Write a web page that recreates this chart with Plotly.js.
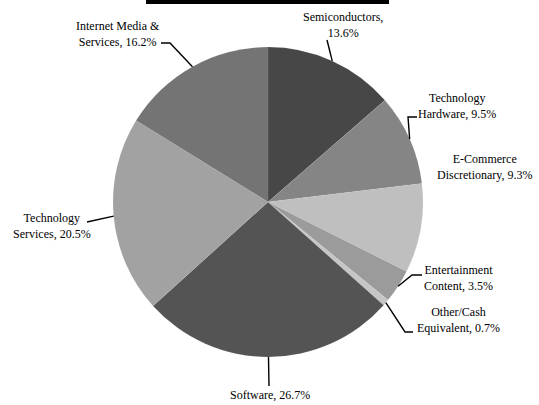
<!DOCTYPE html>
<html>
<head>
<meta charset="utf-8">
<script src="https://cdn.plot.ly/plotly-3.0.1.min.js"></script>
<style>html,body{margin:0;padding:0;background:#fff}#chart{width:539px;height:405px}</style>
</head>
<body>
<div id="chart"></div>
<script>
// ---- data ----
const categories = ["Semiconductors", "Technology Hardware", "E-Commerce Discretionary", "Entertainment Content", "Other/Cash Equivalent", "Software", "Technology Services", "Internet Media & Services"];
const labelLines = [["Semiconductors,", "13.6%"], ["Technology", "Hardware, 9.5%"], ["E-Commerce", "Discretionary, 9.3%"], ["Entertainment", "Content, 3.5%"], ["Other/Cash", "Equivalent, 0.7%"], ["Software, 26.7%"], ["Technology", "Services, 20.5%"], ["Internet Media &amp;", "Services, 16.2%"]];
const values = [13.6, 9.5, 9.3, 3.5, 0.7, 26.7, 20.5, 16.2];

// ---- styles / layout positions (pixels) ----
const colors = ["#474747", "#858585", "#bfbfbf", "#9b9b9b", "#c6c6c6", "#545454", "#a2a2a2", "#747474"];
const W = 539, H = 405;
const CX = 268, CY = 202, R = 155;
const textPos = [[343, 25], [457, 106], [485, 167], [458, 278], [458, 320], [270, 395], [52, 226], [118, 34]];
const leaderStart = [[[327, 40]], [[417, 117], [408, 117]], null, [[422, 275], [412, 275]], [[413, 332], [405, 332]], [[269, 386]], [[87, 222]], [[161, 43], [170, 43]]];
const FONT = "Liberation Serif";

const px = x => x / W;
const py = y => 1 - y / H;

const total = values.reduce((a, b) => a + b, 0);
let cum = 0;
const shapes = [];
const annotations = [];
values.forEach((v, i) => {
  const mid = (cum + v / 2) / total * 2 * Math.PI;
  cum += v;
  const ex = CX + R * Math.sin(mid), ey = CY - R * Math.cos(mid);
  annotations.push({
    xref: 'paper', yref: 'paper', x: px(textPos[i][0]), y: py(textPos[i][1]),
    xanchor: 'center', yanchor: 'middle', showarrow: false, align: 'center',
    text: labelLines[i].join('<br>'),
    font: {family: FONT, size: 12, color: '#000'}
  });
  if (leaderStart[i]) {
    const pts = leaderStart[i].concat([[ex, ey]]);
    let d = 'M ' + px(pts[0][0]) + ',' + py(pts[0][1]);
    for (let k = 1; k < pts.length; k++) d += ' L ' + px(pts[k][0]) + ',' + py(pts[k][1]);
    shapes.push({type: 'path', xref: 'paper', yref: 'paper', path: d, line: {color: '#000', width: 1.4}});
  }
});
shapes.push({type: 'rect', xref: 'paper', yref: 'paper', x0: px(146), x1: px(389), y0: py(0), y1: py(4), fillcolor: '#000', line: {width: 0}});

const trace = {
  type: 'pie', labels: categories, values: values, sort: false, direction: 'clockwise', rotation: 0,
  marker: {colors: colors, line: {color: 'rgba(255,255,255,0.12)', width: 0.5}},
  textinfo: 'none', hoverinfo: 'none',
  domain: {x: [px(CX - R), px(CX + R)], y: [py(CY + R), py(CY - R)]}
};

Plotly.newPlot('chart', [trace], {
  width: W, height: H, margin: {l: 0, r: 0, t: 0, b: 0}, showlegend: false,
  font: {family: FONT},
  paper_bgcolor: '#fff', plot_bgcolor: '#fff',
  shapes: shapes, annotations: annotations
}, {staticPlot: true});
</script>
</body>
</html>
